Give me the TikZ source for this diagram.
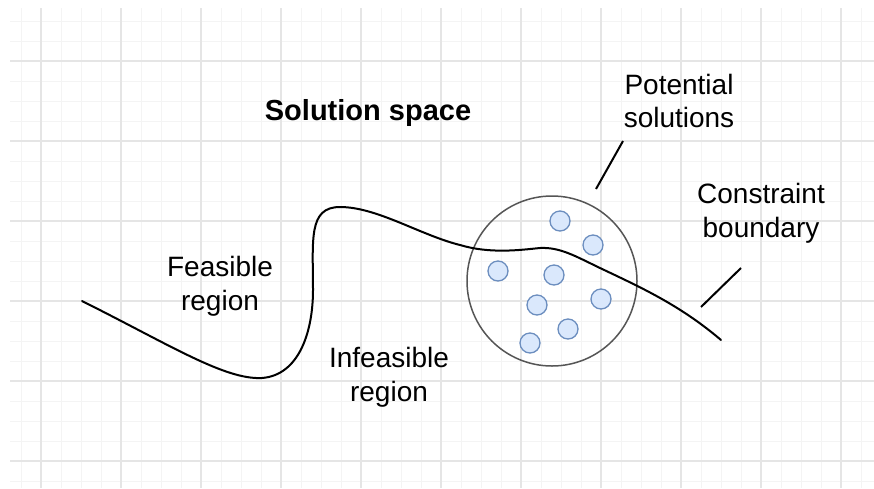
\documentclass[tikz,border=0pt]{standalone}
\usepackage{fontspec}
\setmainfont{Liberation Sans}
\definecolor{gridminor}{HTML}{F4F4F4}
\definecolor{gridmajor}{HTML}{E5E5E5}
\definecolor{dotfill}{HTML}{DAE8FC}
\definecolor{dotdraw}{HTML}{6C8EBF}
\definecolor{ringdraw}{HTML}{555555}
\tikzset{
  label text/.style={align=center, inner sep=0pt,
    font=\fontsize{28}{33.6}\selectfont},
  title text/.style={inner sep=0pt, font=\fontsize{29}{34}\selectfont\bfseries},
  solution/.style={circle, draw=dotdraw, fill=dotfill, line width=1.3pt,
    minimum size=20pt, inner sep=0pt},
  ring/.style={circle, draw=ringdraw, line width=1.5pt,
    minimum size=170pt, inner sep=0pt},
  boundary/.style={line width=2pt, line cap=round},
  leader/.style={line width=2pt},
}
\begin{document}
\begin{tikzpicture}[x=1pt, y=-1pt]
  \useasboundingbox (0,0) rectangle (874,488);
  \fill[white] (0,0) rectangle (874,488);

  % background grid
  \begin{scope}
    \clip (10,8) rectangle (874,488);
    \foreach \x in {21,41,...,861} \draw[gridminor, line width=1pt] (\x,0) -- (\x,488);
    \foreach \y in {21,41,...,481} \draw[gridminor, line width=1pt] (0,\y) -- (874,\y);
    \foreach \x in {41,121,...,841} \draw[gridmajor, line width=1.4pt] (\x,0) -- (\x,488);
    \foreach \y in {61,141,...,461} \draw[gridmajor, line width=1.4pt] (0,\y) -- (874,\y);
  \end{scope}

  % region of potential solutions
  \node[ring] (pool) at (552,281) {};
  \node[solution] (s1) at (560,221) {};
  \node[solution] (s2) at (593,245) {};
  \node[solution] (s3) at (498,271) {};
  \node[solution] (s4) at (554,275) {};
  \node[solution] (s5) at (537,305) {};
  \node[solution] (s6) at (601,299) {};
  \node[solution] (s7) at (568,329) {};
  \node[solution] (s8) at (530,343) {};

  % constraint boundary curve
  \coordinate (c0) at (82,301);
  \coordinate (c1) at (262,378);
  \coordinate (c2) at (313,290);
  \coordinate (c3) at (340,207);
  \coordinate (c4) at (460,245);
  \coordinate (c5) at (540,248);
  \coordinate (c6) at (600,268);
  \coordinate (c7) at (721,340);
  \draw[boundary] (c0)
    .. controls (170,345) and (225,380) .. (c1)
    .. controls (300,375) and (313,330) .. (c2)
    .. controls (313,240) and (308,207) .. (c3)
    .. controls (377,207) and (420,235) .. (c4)
    .. controls (490,254) and (520,250) .. (c5)
    .. controls (560,247) and (575,256) .. (c6)
    .. controls (640,287) and (680,305) .. (c7);

  % labels
  \node[title text] (title) at (368,113) {Solution space};
  \node[label text] (potential) at (679,101) {Potential\\solutions};
  \node[label text] (constraint) at (761,213) {Constraint\\boundary};
  \node[label text] (feasible) at (220,286) {Feasible\\region};
  \node[label text] (infeasible) at (389,377) {Infeasible\\region};

  % leader lines
  \coordinate (p1) at (623,141);
  \coordinate (p2) at (596,189);
  \draw[leader] (p1) -- (p2);
  \coordinate (b1) at (741,268);
  \coordinate (b2) at (701,307);
  \draw[leader] (b1) -- (b2);
\end{tikzpicture}
\end{document}
